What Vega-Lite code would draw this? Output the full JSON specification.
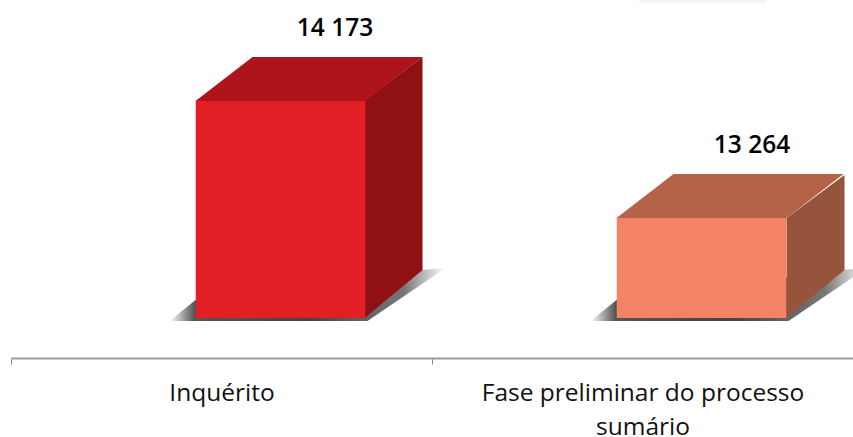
{"$schema":"https://vega.github.io/schema/vega-lite/v6.json","width":842,"height":358,"autosize":"none","padding":{"left":11,"top":0,"right":0,"bottom":79},"background":"white","view":{"stroke":null},"config":{"font":"Open Sans"},"data":{"values":[{"cat":"Inquérito","value":14173},{"cat":"Fase preliminar do processo sumário","value":13264}]},"resolve":{"scale":{"fill":"independent","shape":"independent"}},"encoding":{"x":{"field":"cat","type":"nominal","sort":null,"scale":{"domain":["Inquérito","Fase preliminar do processo sumário"],"paddingInner":0,"paddingOuter":0},"axis":{"title":null,"labelAngle":0,"tickBand":"extent","domainColor":"#9a9a9a","domainWidth":2,"tickColor":"#8a8a8a","tickSize":6,"tickWidth":1,"labelFont":"Open Sans","labelFontSize":24.5,"labelColor":"#111111","labelPadding":29,"labelLineHeight":34,"labelLimit":0,"labelOverlap":false,"labelBaseline":"middle","labelExpr":"datum.label == 'Fase preliminar do processo sumário' ? ['Fase preliminar do processo','sumário'] : datum.label"}}},"layer":[{"transform":[{"filter":"datum.value == 13264"}],"mark":{"type":"point","filled":true,"size":4,"opacity":1,"fill":"#f4f4f4","shape":"M-3.5 0 L123.5 0 L123.5 3 L-3.5 3 Z"},"encoding":{"y":{"datum":14958,"type":"quantitative","scale":{"domain":[12176,14958],"nice":false,"zero":false},"axis":null}}},{"mark":{"type":"point","filled":true,"size":4,"opacity":1,"fill":{"gradient":"linear","x1":0,"x2":1,"y1":0,"y2":0,"stops":[{"offset":0,"color":"#ffffff"},{"offset":0.09,"color":"#555555"},{"offset":0.5,"color":"#444444"},{"offset":0.85,"color":"#777777"},{"offset":1,"color":"#ffffff"}]}},"encoding":{"y":{"field":"value","type":"quantitative"},"shape":{"field":"cat","type":"nominal","sort":null,"legend":null,"scale":{"range":["M-52 220 L-26 199 L200 169 L224 167 L146 220 Z","M-52 103 L-26 82 L200 52 L224 50 L146 103 Z"]}}}},{"mark":{"type":"point","filled":true,"size":4,"opacity":1},"encoding":{"y":{"field":"value","type":"quantitative"},"fill":{"field":"cat","type":"nominal","sort":null,"legend":null,"scale":{"range":["#8f1114","#96543c"]}},"shape":{"field":"cat","type":"nominal","sort":null,"legend":null,"scale":{"range":["M143 0 L201 -44 L201 169 L143 217 Z","M144 0 L202 -43 L202 52 L144 100 Z"]}}}},{"mark":{"type":"point","filled":true,"size":4,"opacity":1,"shape":"M-26 0 L144 0 L201 -44 L31 -44 Z"},"encoding":{"y":{"field":"value","type":"quantitative"},"fill":{"field":"cat","type":"nominal","sort":null,"legend":null,"scale":{"range":["#ad151b","#b56348"]}}}},{"mark":{"type":"bar","size":169.5,"xOffset":59},"encoding":{"y":{"field":"value","type":"quantitative"},"y2":{"datum":12487},"fill":{"field":"cat","type":"nominal","sort":null,"legend":null,"scale":{"range":["#e31f26","#f28366"]}}}},{"transform":[{"filter":"datum.value == 14173"}],"mark":{"type":"text","xOffset":113.5,"dy":-72,"fontSize":24.5,"fontWeight":600,"color":"#000000","font":"Open Sans"},"encoding":{"y":{"field":"value","type":"quantitative"},"text":{"value":"14 173"}}},{"transform":[{"filter":"datum.value == 13264"}],"mark":{"type":"text","xOffset":109.5,"dy":-72,"fontSize":24.5,"fontWeight":600,"color":"#000000","font":"Open Sans"},"encoding":{"y":{"field":"value","type":"quantitative"},"text":{"value":"13 264"}}}]}
